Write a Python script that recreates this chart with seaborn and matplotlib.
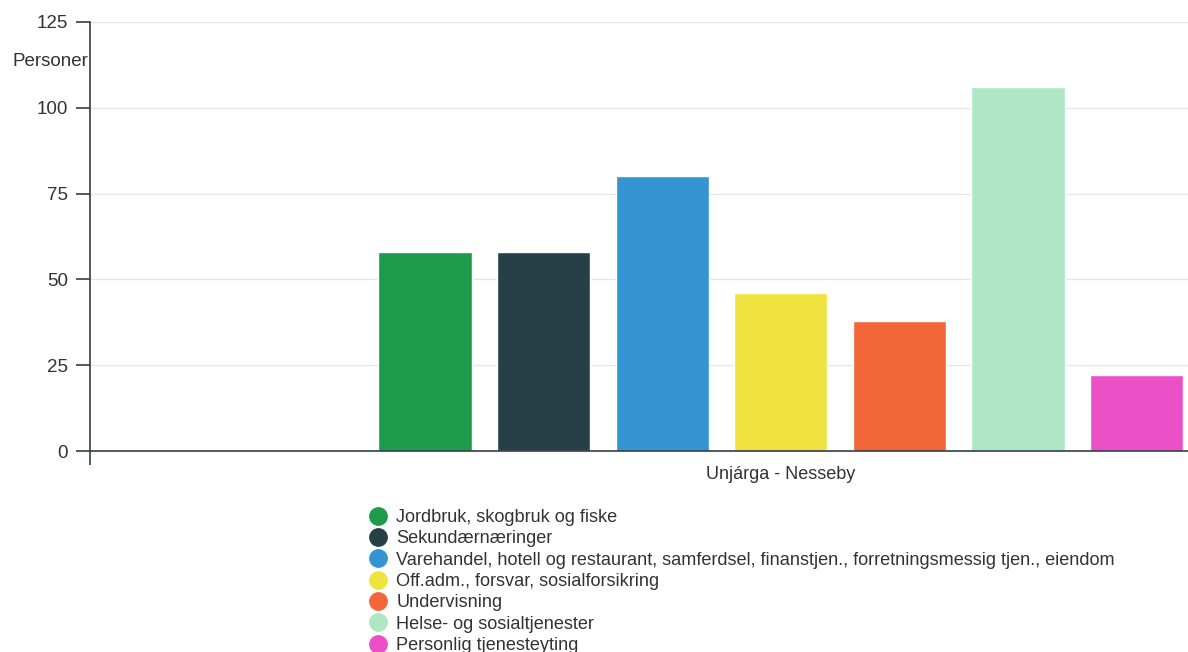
import numpy as np
import pandas as pd
import matplotlib
matplotlib.use("Agg")
import matplotlib.pyplot as plt
from matplotlib.lines import Line2D
import seaborn as sns

# --- data ---
kommune = "Unjárga - Nesseby"
naeringer = [
    "Jordbruk, skogbruk og fiske",
    "Sekundærnæringer",
    "Varehandel, hotell og restaurant, samferdsel, finanstjen., forretningsmessig tjen., eiendom",
    "Off.adm., forsvar, sosialforsikring",
    "Undervisning",
    "Helse- og sosialtjenester",
    "Personlig tjenesteyting",
]
personer = [58, 58, 80, 46, 38, 106, 22]
farger = ["#1d9b4a", "#274047", "#3494d2", "#f0e340", "#f26639", "#afe6c4", "#ec50c7"]
y_ticks = [0, 25, 50, 75, 100, 125]

df = pd.DataFrame({"kommune": kommune, "naering": naeringer, "personer": personer})

sns.set_style("white")
plt.rcParams["font.family"] = ["Liberation Sans", "DejaVu Sans"]
tekst = "#333333"
akse = "#333f44"

W, H = 1188, 652
fig = plt.figure(figsize=(W / 100, H / 100), dpi=100)
ax = fig.add_axes([90 / W, (H - 451) / H, 1 - 90 / W, (451 - 22) / H])

sns.barplot(data=df, x="kommune", y="personer", hue="naering", hue_order=naeringer,
            palette=dict(zip(naeringer, farger)), width=0.8, gap=0.213,
            edgecolor="white", linewidth=1, saturation=1, legend=False, ax=ax)

# group centre sits at 781 px, one bar slot is ~118.6 px
scale = 118.6 / (0.8 / len(naeringer))
ax.set_xlim((90 - 780.8) / scale, (W - 780.8) / scale)
ax.set_ylim(0, 125)
ax.set_yticks(y_ticks)
ax.set_xlabel("")
ax.set_ylabel("")

ax.yaxis.grid(True, color="#e6e6e6", linewidth=1)
ax.set_axisbelow(True)
for s in ["top", "right"]:
    ax.spines[s].set_visible(False)
for s in ["left", "bottom"]:
    ax.spines[s].set_color(akse)
    ax.spines[s].set_linewidth(1.2)

ax.tick_params(axis="y", left=True, length=10, width=1.2, color=akse, pad=6,
               labelsize=13.5, labelcolor=tekst)
ax.tick_params(axis="x", which="major", bottom=False, length=0, pad=11,
               labelsize=13, labelcolor=tekst)
ax.set_xticks([ax.get_xlim()[0]], minor=True)
ax.tick_params(axis="x", which="minor", bottom=True, length=10, width=1.2, color=akse)

fig.text(12 / W, 1 - 62 / H, "Personer", ha="left", va="center", fontsize=13.5, color=tekst)

handles = [Line2D([], [], marker="o", linestyle="", markersize=12.5,
                  markerfacecolor=c, markeredgecolor=c) for c in farger]
fig.legend(handles, naeringer, loc="upper left", bbox_to_anchor=(369 / W, 1 - 509 / H),
           bbox_transform=fig.transFigure, frameon=False, fontsize=13.1,
           borderpad=0, borderaxespad=0, handlelength=1.0, handletextpad=0.5,
           labelspacing=0.24, labelcolor=tekst)

fig.savefig("out.png", dpi=100)
